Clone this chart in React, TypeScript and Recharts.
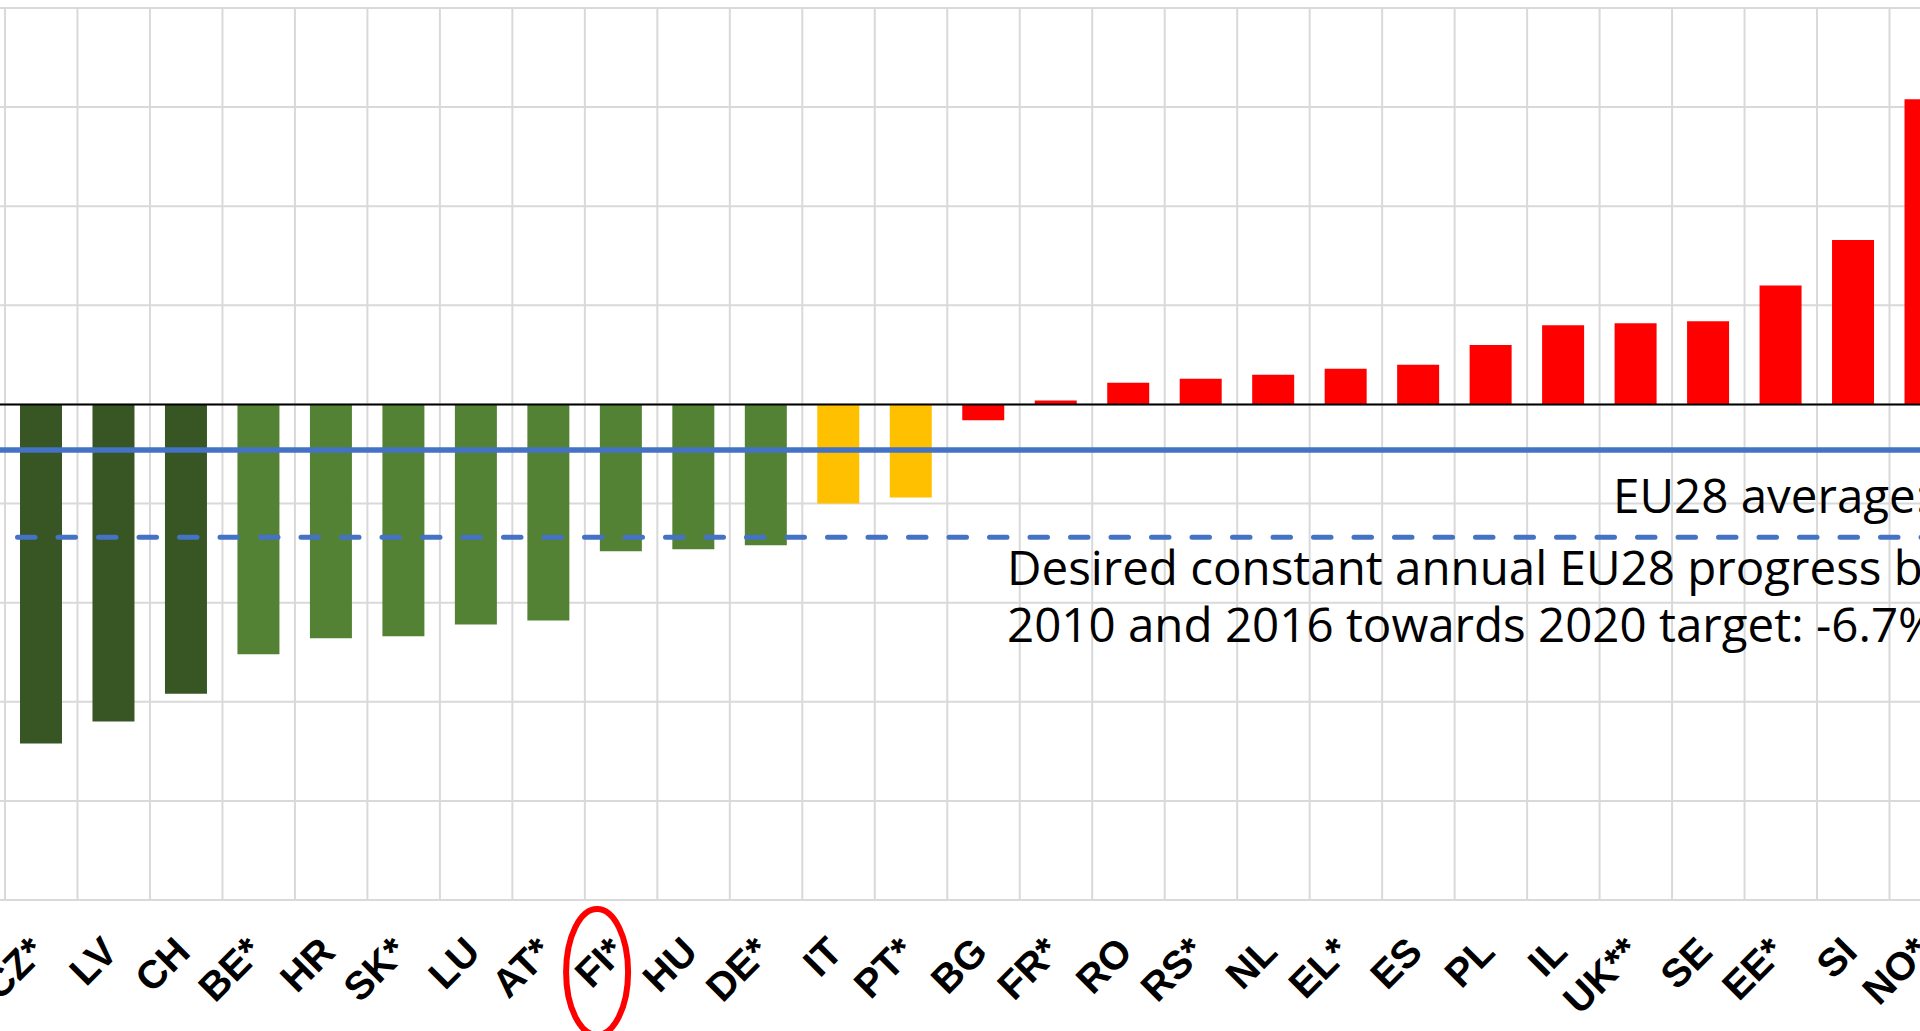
import React from 'react';
import { BarChart, Bar, XAxis, YAxis, CartesianGrid, ReferenceLine, Cell } from 'recharts';

// change in indicator 2010-2016 (%)
const countries = ['CZ*', 'LV', 'CH', 'BE*', 'HR', 'SK*', 'LU', 'AT*', 'FI*', 'HU', 'DE*', 'IT', 'PT*', 'BG', 'FR*', 'RO', 'RS*', 'NL', 'EL*', 'ES', 'PL', 'IL', 'UK**', 'SE', 'EE*', 'SI', 'NO*'];
const change = [-17.1, -16.0, -14.6, -12.6, -11.8, -11.7, -11.1, -10.9, -7.4, -7.3, -7.1, -5.0, -4.7, -0.8, 0.2, 1.1, 1.3, 1.5, 1.8, 2.0, 3.0, 4.0, 4.1, 4.2, 6.0, 8.3, 15.4];
const yTicks = [-25, -20, -15, -10, -5, 0, 5, 10, 15, 20];

const EU28_AVERAGE = -2.3;
const TARGET = -6.7;
const STRONG = -13;
const HIGHLIGHT = 'FI*';

const data = countries.map((country, i) => ({ country, value: change[i] }));

const PAD_LEFT = 25;
const PAD_RIGHT = 60;

function barColor(v: number) {
  if (v < STRONG) return '#375623';
  if (v <= TARGET) return '#548235';
  if (v <= EU28_AVERAGE) return '#FFC000';
  return '#FF0000';
}

// vertical grid lines sit on the category boundaries, not on the ticks
const categoryEdges = ({ offset }: any) => {
  const start = offset.left + PAD_LEFT;
  const step = (offset.width - PAD_LEFT - PAD_RIGHT) / countries.length;
  return [...countries.map((_, i) => start + i * step), start + countries.length * step];
};

function CountryTick({ x, y, payload }: any) {
  const label = payload.value;
  return (
    <g transform={`translate(${x},${y})`}>
      {label === HIGHLIGHT && (
        <ellipse cx={-24} cy={72} rx={31} ry={63} fill="none" stroke="#FF0000" strokeWidth={6} />
      )}
      <text
        transform="translate(6,54) rotate(-45)"
        textAnchor="end"
        fontFamily="'Liberation Sans', Arial, sans-serif"
        fontWeight="bold"
        fontSize={39.5}
        fill="#000"
      >
        {label}
      </text>
    </g>
  );
}

const textStyle = { fontFamily: "'Open Sans', sans-serif", fontSize: 47.5, fill: '#000' };

function AverageLabel({ viewBox }: any) {
  return (
    <text x={viewBox.x + 1633} y={viewBox.y + 63} {...textStyle}>
      EU28 average: {EU28_AVERAGE}%
    </text>
  );
}

function TargetLabel({ viewBox }: any) {
  const x = viewBox.x + 1027;
  return (
    <text x={x} y={viewBox.y + 48} {...textStyle}>
      <tspan x={x}>Desired constant annual EU28 progress between</tspan>
      <tspan x={x} dy={56.7}>2010 and 2016 towards 2020 target: {TARGET}%</tspan>
    </text>
  );
}

export default function App() {
  return (
    <div style={{ position: 'fixed', left: 0, top: 0, width: 1920, height: 1031, overflow: 'hidden', background: '#fff' }}>
      <div style={{ position: 'absolute', left: -20, top: 0 }}>
        <BarChart width={2042} height={1031} data={data} margin={{ top: 8, right: 0, bottom: 0, left: 0 }}>
          <CartesianGrid stroke="#D9D9D9" strokeWidth={2} verticalCoordinatesGenerator={categoryEdges} />
          <XAxis
            dataKey="country"
            interval={0}
            height={131}
            tickSize={0}
            tickMargin={0}
            axisLine={false}
            tickLine={false}
            padding={{ left: PAD_LEFT, right: PAD_RIGHT }}
            tick={<CountryTick />}
          />
          <YAxis hide domain={[-25, 20]} ticks={yTicks} type="number" />
          <Bar dataKey="value" barSize={42} isAnimationActive={false}>
            {data.map((d) => (
              <Cell key={d.country} fill={barColor(d.value)} />
            ))}
          </Bar>
          <ReferenceLine y={0} stroke="#000" strokeWidth={2} />
          <ReferenceLine y={EU28_AVERAGE} stroke="#4472C4" strokeWidth={5.5} label={<AverageLabel />} />
          <ReferenceLine
            y={TARGET}
            stroke="#4472C4"
            strokeWidth={5}
            strokeDasharray="17.5 23"
            strokeDashoffset={3}
            strokeLinecap="round"
            label={<TargetLabel />}
          />
        </BarChart>
      </div>
    </div>
  );
}
